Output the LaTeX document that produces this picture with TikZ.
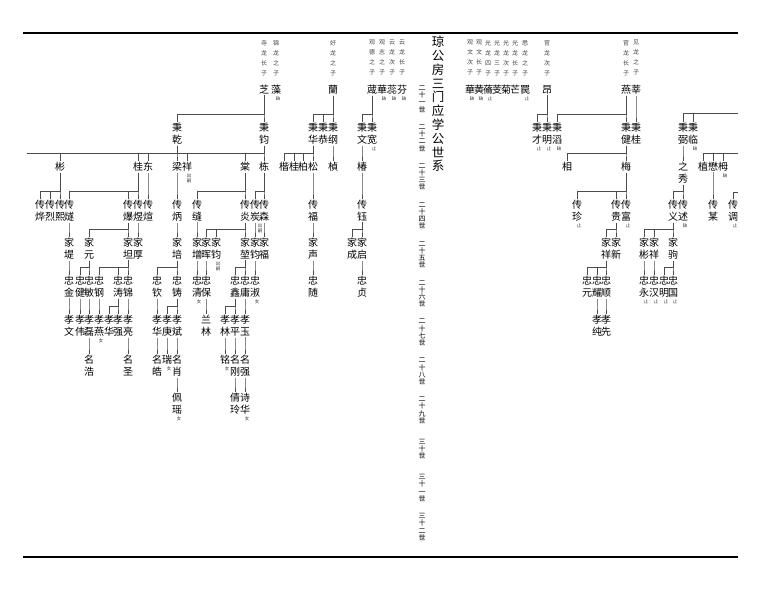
\documentclass[tikz,border=0pt]{standalone}
\usepackage{fontspec}
\newfontfamily\cjk{Noto Sans CJK SC}
\tikzset{
  nm/.style={font=\cjk\fontsize{10}{12}\selectfont, inner sep=1pt, align=center, anchor=north},
  src/.style={font=\cjk\fontsize{6}{10}\selectfont, text=black!75, inner sep=0pt, align=center, anchor=north},
  nt/.style={font=\cjk\fontsize{4.5}{5}\selectfont, text=black!80, inner sep=0pt, align=center, anchor=north},
  gen/.style={font=\cjk\fontsize{7}{7.2}\selectfont, inner sep=0pt, align=center},
  ttl/.style={font=\cjk\fontsize{12.5}{13.8}\selectfont, inner sep=0pt, align=center, anchor=north},
  link/.style={draw=black!70, line width=0.6pt},
  rule/.style={line width=2.4pt}
}
% parent -> child
\newcommand{\kin}[2]{\draw[link] (#1.south) |- ([yshift=8pt]#2.north) -- (#2.north);}
% small remark under a name
\newcommand{\pnote}[3][2pt]{\node[nt] (rm-#2) at ([xshift=#1,yshift=-1pt]#2.south) {#3};}

\begin{document}
\begin{tikzpicture}[x=1pt,y=-1pt]
  \useasboundingbox (0,0) rectangle (766,607);
  \draw[rule] (23,33) -- (738,33);
  \draw[rule] (23,557) -- (738,557);

  % title and generations
  \node[ttl] (title) at (438,36) {琼\\公\\房\\三\\门\\应\\学\\公\\世\\系};
  \foreach \g [count=\i from 0] in {{二\\十\\一\\世},{二\\十\\二\\世},{二\\十\\三\\世},{二\\十\\四\\世},{二\\十\\五\\世},{二\\十\\六\\世},{二\\十\\七\\世},{二\\十\\八\\世},{二\\十\\九\\世},{三\\十\\世},{三\\十\\一\\世},{三\\十\\二\\世}}
    \node[gen] (gen\i) at (422,{99+38.9*\i}) {\g};

  % fathers
  \node[src] (zhit) at (264,40) {寺\\龙\\长\\子};
  \node[src] (zaot) at (276,40) {锦\\龙\\之\\子};
  \node[src] (lant) at (333,40) {好\\龙\\之\\子};
  \node[src] (chant) at (372,40) {观\\德\\之\\子};
  \node[src] (hua1t) at (382,40) {观\\志\\之\\子};
  \node[src] (ruit) at (392,40) {云\\龙\\次\\子};
  \node[src] (fent) at (402,40) {云\\龙\\长\\子};
  \node[src] (hua2t) at (470,40) {观\\文\\次\\子};
  \node[src] (huangt) at (479,40) {观\\文\\长\\子};
  \node[src] (tiaot) at (488,40) {光\\龙\\四\\子};
  \node[src] (jit) at (497,40) {光\\龙\\三\\子};
  \node[src] (jut) at (506,40) {光\\龙\\次\\子};
  \node[src] (mangt) at (515,40) {光\\龙\\长\\子};
  \node[src] (mint) at (525,40) {悉\\龙\\之\\子};
  \node[src] (angt) at (547,40) {官\\龙\\次\\子};
  \node[src] (yant) at (626,40) {官\\龙\\长\\子};
  \node[src] (xint) at (636,40) {见\\龙\\之\\子};

  % 21
  \node[nm] (zhi) at (264,84) {芝};
  \node[nm] (zao) at (276,84) {藻};
  \node[nm] (lan) at (333,84) {蘭};
  \node[nm] (chan) at (372,84) {蒧};
  \node[nm] (hua1) at (382,84) {華};
  \node[nm] (rui) at (392,84) {蕊};
  \node[nm] (fen) at (402,84) {芬};
  \node[nm] (hua2) at (470,84) {華};
  \node[nm] (huang) at (479,84) {黄};
  \node[nm] (tiao) at (488,84) {蓨};
  \node[nm] (ji) at (497,84) {芰};
  \node[nm] (ju) at (506,84) {菊};
  \node[nm] (mang) at (515,84) {芒};
  \node[nm] (min) at (525,84) {罠};
  \node[nm] (ang) at (547,84) {昂};
  \node[nm] (yan) at (626,84) {燕};
  \node[nm] (xin) at (636,84) {莘};

  % 22
  \node[nm] (bqian) at (177,122) {秉\\乾};
  \node[nm] (bjun) at (264,122) {秉\\钧};
  \node[nm] (bhua) at (313,122) {秉\\华};
  \node[nm] (bgong) at (323,122) {秉\\恭};
  \node[nm] (bgang) at (333,122) {秉\\纲};
  \node[nm] (bwen) at (362,122) {秉\\文};
  \node[nm] (bkuan) at (372,122) {秉\\宽};
  \node[nm] (bcai) at (537,122) {秉\\才};
  \node[nm] (bming) at (547,122) {秉\\明};
  \node[nm] (btao) at (557,122) {秉\\滔};
  \node[nm] (bjian) at (626,122) {秉\\健};
  \node[nm] (bgui) at (636,122) {秉\\桂};
  \node[nm] (bbi) at (683,122) {秉\\弼};
  \node[nm] (blin) at (693,122) {秉\\临};

  % 23
  \node[nm] (bin) at (60,161) {彬};
  \node[nm] (gui) at (138,161) {桂};
  \node[nm] (dong) at (148,161) {东};
  \node[nm] (liang) at (177,161) {梁};
  \node[nm] (xiang) at (187,161) {祥};
  \node[nm] (tang) at (245,161) {棠};
  \node[nm] (dong2) at (264,161) {栋};
  \node[nm] (kai) at (284,161) {楷};
  \node[nm] (gui2) at (294,161) {桂};
  \node[nm] (bai) at (303,161) {柏};
  \node[nm] (song) at (313,161) {松};
  \node[nm] (zhen) at (333,161) {楨};
  \node[nm] (chun) at (362,161) {椿};
  \node[nm] (xiang2) at (567,161) {相};
  \node[nm] (mei) at (626,161) {梅};
  \node[nm] (zhixiu) at (683,161) {之\\秀};
  \node[nm] (zhi2) at (703,161) {植};
  \node[nm] (mao) at (713,161) {懋};
  \node[nm] (mei2) at (723,161) {栂};

  % 24
  \node[nm] (cye) at (40,199) {传\\烨};
  \node[nm] (clie) at (50,199) {传\\烈};
  \node[nm] (cxi) at (60,199) {传\\熙};
  \node[nm] (csui) at (69,199) {传\\燧};
  \node[nm] (cbao) at (128,199) {传\\爆};
  \node[nm] (cyu) at (138,199) {传\\煜};
  \node[nm] (cxuan) at (148,199) {传\\煊};
  \node[nm] (cbing) at (177,199) {传\\炳};
  \node[nm] (cfeng) at (197,199) {传\\缝};
  \node[nm] (cyan) at (245,199) {传\\炎};
  \node[nm] (ctan) at (255,199) {传\\炭};
  \node[nm] (csen) at (264,199) {传\\森};
  \node[nm] (cfu) at (313,199) {传\\福};
  \node[nm] (cyu2) at (362,199) {传\\钰};
  \node[nm] (czhen) at (577,199) {传\\珍};
  \node[nm] (cgui) at (616,199) {传\\贵};
  \node[nm] (cfu2) at (626,199) {传\\富};
  \node[nm] (cyi) at (673,199) {传\\义};
  \node[nm] (cshu) at (683,199) {传\\述};
  \node[nm] (cmou) at (713,199) {传\\某};
  \node[nm] (ctiao) at (733,199) {传\\调};

  % 25
  \node[nm] (jdi) at (69,237) {家\\堤};
  \node[nm] (jyuan) at (89,237) {家\\元};
  \node[nm] (jtan) at (128,237) {家\\坦};
  \node[nm] (jhou) at (138,237) {家\\厚};
  \node[nm] (jpei) at (177,237) {家\\培};
  \node[nm] (jzeng) at (197,237) {家\\增};
  \node[nm] (jhui) at (206,237) {家\\晖};
  \node[nm] (jjun) at (216,237) {家\\钧};
  \node[nm] (jkun) at (245,237) {家\\堃};
  \node[nm] (jjun2) at (255,237) {家\\钧};
  \node[nm] (jfu) at (264,237) {家\\福};
  \node[nm] (jsheng) at (313,237) {家\\声};
  \node[nm] (jcheng) at (352,237) {家\\成};
  \node[nm] (jqi) at (362,237) {家\\启};
  \node[nm] (jxiang) at (606,237) {家\\祥};
  \node[nm] (jxin) at (616,237) {家\\新};
  \node[nm] (jbin) at (644,237) {家\\彬};
  \node[nm] (jxiang2) at (654,237) {家\\祥};
  \node[nm] (jju) at (673,237) {家\\驹};

  % 26
  \node[nm] (zjin) at (69,275) {忠\\金};
  \node[nm] (zjian) at (80,275) {忠\\健};
  \node[nm] (zmin) at (89,275) {忠\\敏};
  \node[nm] (zgang) at (99,275) {忠\\钢};
  \node[nm] (ztao) at (118,275) {忠\\涛};
  \node[nm] (zjin2) at (128,275) {忠\\锦};
  \node[nm] (zqin) at (157,275) {忠\\钦};
  \node[nm] (zzhu) at (177,275) {忠\\铸};
  \node[nm] (zqing) at (197,275) {忠\\清};
  \node[nm] (zbao) at (206,275) {忠\\保};
  \node[nm] (zxin) at (235,275) {忠\\鑫};
  \node[nm] (zyong) at (245,275) {忠\\庸};
  \node[nm] (zshu) at (255,275) {忠\\淑};
  \node[nm] (zsui) at (313,275) {忠\\随};
  \node[nm] (zzhen) at (362,275) {忠\\贞};
  \node[nm] (zyuan) at (587,275) {忠\\元};
  \node[nm] (zyao) at (597,275) {忠\\耀};
  \node[nm] (zshun) at (606,275) {忠\\顺};
  \node[nm] (zyong2) at (644,275) {忠\\永};
  \node[nm] (zhan) at (654,275) {忠\\汉};
  \node[nm] (zming) at (664,275) {忠\\明};
  \node[nm] (zguo) at (673,275) {忠\\国};

  % 27
  \node[nm] (xwen) at (69,314) {孝\\文};
  \node[nm] (xwei) at (80,314) {孝\\伟};
  \node[nm] (xlei) at (89,314) {孝\\磊};
  \node[nm] (xyan) at (99,314) {孝\\燕};
  \node[nm] (xhua) at (109,314) {孝\\华};
  \node[nm] (xqiang) at (118,314) {孝\\强};
  \node[nm] (xliang) at (128,314) {孝\\亮};
  \node[nm] (xhua2) at (157,314) {孝\\华};
  \node[nm] (xgeng) at (167,314) {孝\\庚};
  \node[nm] (xbin) at (177,314) {孝\\斌};
  \node[nm] (llin) at (206,314) {兰\\林};
  \node[nm] (xlin) at (225,314) {孝\\林};
  \node[nm] (xping) at (235,314) {孝\\平};
  \node[nm] (xyu) at (245,314) {孝\\玉};
  \node[nm] (xchun) at (597,314) {孝\\纯};
  \node[nm] (xxian) at (606,314) {孝\\先};

  % 28, 29
  \node[nm] (mhao) at (89,354) {名\\浩};
  \node[nm] (msheng) at (128,354) {名\\圣};
  \node[nm] (mhao2) at (157,354) {名\\皓};
  \node[nm] (rui2) at (167,354) {瑞};
  \node[nm] (mxiao) at (177,354) {名\\肖};
  \node[nm] (ming) at (225,354) {铭};
  \node[nm] (mgang) at (235,354) {名\\刚};
  \node[nm] (mqiang) at (245,354) {名\\强};
  \node[nm] (pyao) at (177,392) {佩\\瑶};
  \node[nm] (qling) at (235,392) {倩\\玲};
  \node[nm] (shua) at (245,392) {诗\\华};

  % remarks
  \pnote{zao}{缺} \pnote{hua1}{缺} \pnote{rui}{缺} \pnote{fen}{缺}
  \pnote{hua2}{缺} \pnote{huang}{缺} \pnote{tiao}{止} \pnote{min}{止}
  \pnote{bkuan}{止} \pnote{bcai}{止} \pnote{bming}{止} \pnote{btao}{缺} \pnote{blin}{缺}
  \pnote{xiang}{出\\嗣} \pnote{mei2}{缺}
  \pnote[5pt]{ctan}{出\\嗣} \pnote{czhen}{止} \pnote{cfu2}{止} \pnote{cshu}{缺} \pnote{ctiao}{止}
  \pnote{jjun}{出\\嗣}
  \pnote{zqing}{女} \pnote{zshu}{女} \pnote{zyong2}{止} \pnote{zhan}{止} \pnote{zming}{止} \pnote{zguo}{止}
  \pnote{xyan}{女} \pnote{rui2}{女} \pnote{ming}{女} \pnote{pyao}{女} \pnote{shua}{女}

  % lines going off the page
  \coordinate (lend) at (27,153);
  \coordinate (rend1) at (738,113);
  \coordinate (rend2) at (738,153);
  \coordinate (rend3) at (738,192);
  \draw[link] (lend) -- (dong2.north |- lend);
  \draw[link] (rend1) -| (bbi.north); \draw[link] (rend1) -| (blin.north);
  \draw[link] (rend2) -| (zhi2.north); \draw[link] (rend2) -| (mao.north); \draw[link] (rend2) -| (mei2.north);
  \draw[link] (rend3) -| (ctiao.north);

  % left tree
  \kin{zhi}{bqian} \kin{zhi}{bjun}
  \kin{bqian}{bin} \kin{bqian}{gui} \kin{bqian}{dong} \kin{bqian}{liang} \kin{bqian}{xiang}
  \kin{bjun}{tang} \kin{bjun}{dong2}
  \kin{bin}{cye} \kin{bin}{clie} \kin{bin}{cxi}
  \kin{gui}{csui} \kin{gui}{cbao} \kin{gui}{cyu}
  \kin{dong}{cxuan} \kin{liang}{cbing}
  \kin{tang}{cfeng} \kin{tang}{cyan}
  \kin{dong2}{ctan} \kin{dong2}{csen}
  \kin{csui}{jdi}
  \kin{cbao}{jyuan} \kin{cbao}{jtan}
  \kin{cyu}{jhou} \kin{cbing}{jpei} \kin{cfeng}{jzeng}
  \kin{cyan}{jhui} \kin{cyan}{jjun} \kin{cyan}{jkun}
  \kin{ctan}{jjun2} \kin{csen}{jfu}
  \kin{jdi}{zjin}
  \kin{jyuan}{zjian} \kin{jyuan}{zmin}
  \kin{jtan}{zgang} \kin{jtan}{ztao} \kin{jtan}{zjin2}
  \kin{jpei}{zqin} \kin{jpei}{zzhu}
  \kin{jzeng}{zqing} \kin{jhui}{zbao}
  \kin{jkun}{zxin} \kin{jkun}{zyong}
  \kin{jjun2}{zshu}
  \kin{zjin}{xwen} \kin{zjian}{xwei} \kin{zmin}{xlei} \kin{zgang}{xyan}
  \kin{ztao}{xhua} \kin{ztao}{xqiang} \kin{zjin2}{xliang}
  \kin{zqin}{xhua2} \kin{zzhu}{xgeng} \kin{zzhu}{xbin}
  \kin{zbao}{llin}
  \kin{zxin}{xlin} \kin{zxin}{xping} \kin{zyong}{xyu}
  \kin{xlei}{mhao} \kin{xliang}{msheng} \kin{xhua2}{mhao2} \kin{xgeng}{rui2} \kin{xbin}{mxiao}
  \kin{xlin}{ming} \kin{xping}{mgang} \kin{xyu}{mqiang}
  \kin{mxiao}{pyao} \kin{mgang}{qling} \kin{mqiang}{shua}
  \kin{lan}{bhua} \kin{lan}{bgong} \kin{lan}{bgang}
  \kin{bhua}{kai} \kin{bhua}{gui2} \kin{bhua}{bai} \kin{bhua}{song}
  \kin{bgang}{zhen}
  \kin{song}{cfu} \kin{cfu}{jsheng} \kin{jsheng}{zsui}
  \kin{chan}{bwen} \kin{chan}{bkuan}
  \kin{bwen}{chun} \kin{chun}{cyu2}
  \kin{cyu2}{jcheng} \kin{cyu2}{jqi} \kin{jqi}{zzhen}

  % right tree
  \kin{ang}{bcai} \kin{ang}{bming}
  \kin{yan}{btao} \kin{yan}{bjian}
  \kin{xin}{bgui}
  \kin{bjian}{xiang2} \kin{bjian}{mei}
  \kin{mei}{czhen} \kin{mei}{cgui} \kin{mei}{cfu2}
  \kin{cgui}{jxiang} \kin{cgui}{jxin}
  \kin{jxiang}{zyuan} \kin{jxiang}{zyao} \kin{jxiang}{zshun}
  \kin{zyao}{xchun} \kin{zshun}{xxian}
  \kin{bbi}{zhixiu} \kin{zhixiu}{cyi} \kin{zhixiu}{cshu}
  \kin{cyi}{jbin} \kin{cyi}{jxiang2} \kin{cyi}{jju}
  \kin{jbin}{zyong2} \kin{jxiang2}{zhan} \kin{jju}{zming} \kin{jju}{zguo}
  \kin{mao}{cmou}
\end{tikzpicture}
\end{document}
